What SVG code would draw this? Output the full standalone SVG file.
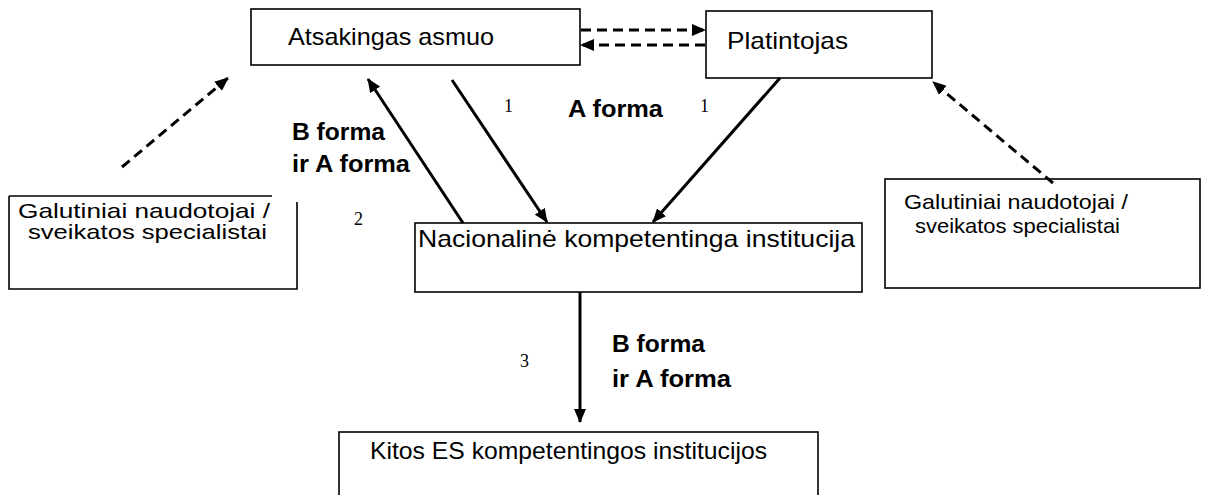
<svg xmlns="http://www.w3.org/2000/svg" width="1208" height="495" viewBox="0 0 1208 495">
<style>
.box{fill:#fff;stroke:#000;stroke-width:1.6}
.t{font-family:"Liberation Sans",Arial,sans-serif;font-size:24px;fill:#000}
.s{font-family:"Liberation Sans",Arial,sans-serif;font-size:21px;fill:#000}
.b{font-family:"Liberation Sans",Arial,sans-serif;font-size:23px;font-weight:bold;fill:#000}
.n{font-family:"Liberation Serif","Times New Roman",serif;font-size:18px;fill:#000}
.solid{fill:none;stroke:#000;stroke-width:3}
.dash{fill:none;stroke:#000;stroke-width:3;stroke-dasharray:10 6}
</style>
<defs>
<marker id="ah" viewBox="0 0 14 12" refX="13" refY="6" markerWidth="14" markerHeight="12" markerUnits="userSpaceOnUse" orient="auto">
<path d="M0,0 L14,6 L0,12 Z" fill="#000"/>
</marker>
</defs>
<rect width="1208" height="495" fill="#fff"/>
<g id="atsakingas">
<rect class="box" x="251" y="9" width="329" height="56"/>
<text class="t" x="288" y="45" textLength="206" lengthAdjust="spacingAndGlyphs">Atsakingas asmuo</text>
</g>
<g id="platintojas">
<rect class="box" x="706" y="11" width="226" height="67"/>
<text class="t" x="727" y="49" textLength="121" lengthAdjust="spacingAndGlyphs">Platintojas</text>
</g>
<g id="galutiniai-kaire">
<path class="box" fill="none" d="M9,196 H272 M9,196 V289 H297 V202"/>
<text class="s" x="18" y="218" textLength="252" lengthAdjust="spacingAndGlyphs">Galutiniai naudotojai /</text>
<text class="s" x="28" y="239" textLength="239" lengthAdjust="spacingAndGlyphs">sveikatos specialistai</text>
</g>
<g id="galutiniai-desine">
<rect class="box" x="885" y="179" width="315" height="109"/>
<text class="s" x="904" y="209" textLength="224" lengthAdjust="spacingAndGlyphs">Galutiniai naudotojai /</text>
<text class="s" x="915" y="233" textLength="205" lengthAdjust="spacingAndGlyphs">sveikatos specialistai</text>
</g>
<g id="nacionaline">
<rect class="box" x="415" y="223" width="447" height="69"/>
<text class="t" x="418" y="247" textLength="437" lengthAdjust="spacingAndGlyphs">Nacionalinė kompetentinga institucija</text>
</g>
<g id="kitos">
<rect class="box" x="339" y="432" width="479" height="80"/>
<text class="t" x="370" y="459" textLength="397" lengthAdjust="spacingAndGlyphs">Kitos ES kompetentingos institucijos</text>
</g>
<g id="connectors">
<line class="dash" x1="581" y1="30" x2="705" y2="30" marker-end="url(#ah)"/>
<line class="dash" x1="705" y1="45" x2="581" y2="45" marker-end="url(#ah)"/>
<line class="dash" x1="122" y1="167" x2="228" y2="78" marker-end="url(#ah)"/>
<line class="dash" x1="1053" y1="183" x2="933" y2="82" marker-end="url(#ah)"/>
<line class="solid" x1="463" y1="223" x2="368" y2="79" marker-end="url(#ah)"/>
<line class="solid" x1="452" y1="80" x2="547" y2="222" marker-end="url(#ah)"/>
<line class="solid" x1="780" y1="78" x2="653" y2="222" marker-end="url(#ah)"/>
<line class="solid" x1="580" y1="292" x2="580" y2="422" marker-end="url(#ah)"/>
</g>
<g id="labels">
<text class="n" x="504" y="112">1</text>
<text class="n" x="700" y="112">1</text>
<text class="b" x="568" y="117" textLength="95" lengthAdjust="spacingAndGlyphs">A forma</text>
<text class="b" x="292" y="140" textLength="93" lengthAdjust="spacingAndGlyphs">B forma</text>
<text class="b" x="292" y="172" textLength="118" lengthAdjust="spacingAndGlyphs">ir A forma</text>
<text class="n" x="354" y="225">2</text>
<text class="n" x="520" y="367">3</text>
<text class="b" x="612" y="352" textLength="93" lengthAdjust="spacingAndGlyphs">B forma</text>
<text class="b" x="612" y="387" textLength="119" lengthAdjust="spacingAndGlyphs">ir A forma</text>
</g>
</svg>
